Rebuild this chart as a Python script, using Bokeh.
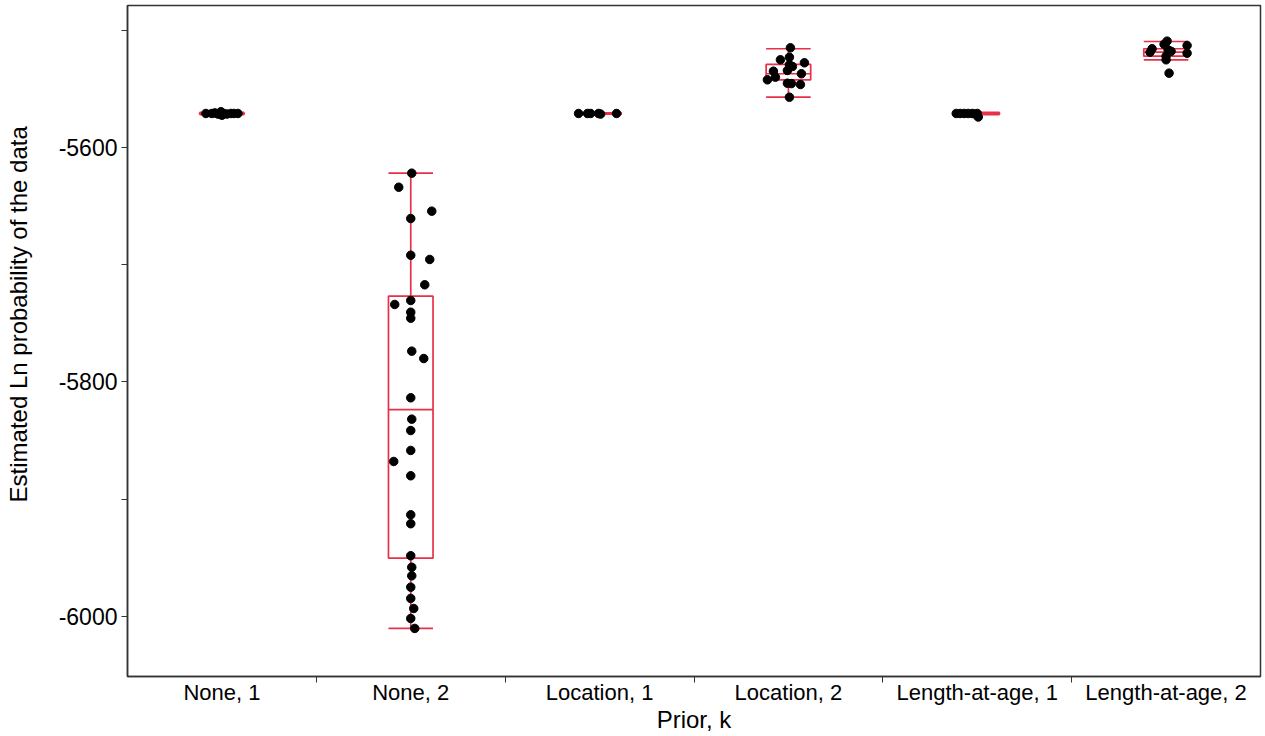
from bokeh.plotting import figure
from bokeh.models import Range1d, FixedTicker, ColumnDataSource
from bokeh.embed import file_html
from bokeh.resources import INLINE

# ---- data ----
categories = ["None, 1", "None, 2", "Location, 1", "Location, 2",
              "Length-at-age, 1", "Length-at-age, 2"]

# box statistics per category
whisker_low = [-5572.0, -6010.2, -5571.5, -5557.1, -5572.0, -5525.2]
quart1 = [-5571.5, -5950.3, -5571.0, -5542.3, -5571.5, -5522.1]
median = [-5571.0, -5823.5, -5571.0, -5537.1, -5571.0, -5518.7]
quart3 = [-5570.5, -5726.8, -5571.0, -5529.2, -5570.5, -5515.8]
whisker_high = [-5570.0, -5621.9, -5570.5, -5515.8, -5570.0, -5509.6]

# individual runs (value, horizontal jitter in pixels)
none1_vals = [-5571, -5571, -5570.5, -5571.5, -5569.5, -5572.5, -5571, -5571.5, -5571, -5571, -5571]
none1_jit = [-16, -10, -7, -4, -1, 0, 2, 5, 9, 12, 16]

none2_vals = [-5621.9, -5633.9, -5654.3, -5660.6, -5691.9, -5695.5, -5717.1, -5730.5,
              -5733.9, -5740.5, -5745.6, -5773.7, -5780.0, -5813.5, -5831.7, -5841.4,
              -5858.4, -5867.8, -5880.0, -5913.3, -5920.9, -5948.2, -5958.0, -5965.3,
              -5975.0, -5984.6, -5993.2, -6001.7, -6010.2]
none2_jit = [1, -12, 21, 0, 0, 19, 14, 0, -16, 0, 0, 1, 13, 0, 1, 0,
             0, -17, 0, 0, 0, 0, 1, 1, 0, 0, 3, 0, 4]

loc1_vals = [-5571, -5571, -5571, -5571, -5571.5, -5571]
loc1_jit = [-21, -12, -9, -1, 1, 17]

loc2_vals = [-5515.0, -5523.0, -5525.2, -5527.8, -5529.5, -5530.9, -5534.9, -5534.3,
             -5537.1, -5540.0, -5542.3, -5545.2, -5545.5, -5546.3, -5557.1]
loc2_jit = [2, 1, -8, 16, 1, 4, -15, -1, 13, -13, -21, -1, 3, 12, 1]

laa1_vals = [-5571, -5571, -5571, -5571, -5571, -5571.5, -5574, -5571]
laa1_jit = [-21, -17, -13, -9, -5, -2, 1, 0]

laa2_vals = [-5509.3, -5513.0, -5512.0, -5515.8, -5516.7, -5518.7, -5519.6, -5518.0,
             -5522.1, -5525.2, -5536.6]
laa2_jit = [1, 21, -2, -14, 2, -16, 21, 5, 0, 0, 3]

y_labeled_ticks = [-6000, -5800, -5600]
y_tick_labels = ["-6000", "-5800", "-5600"]
y_unlabeled_ticks = [-5900, -5700, -5500]

y_title = "Estimated Ln probability of the data"
x_title = "Prior, k"

# ---- figure ----
RED = "#e8304a"
AX = "#333333"
FONT = "Liberation Sans"
PX_PER_CAT = 188.8
BOX_HALF = 0.118

p = figure(width=1262, height=736, output_backend="svg", toolbar_location=None,
           x_range=Range1d(0, len(categories)), y_range=Range1d(-6051.2, -5478.9),
           min_border_left=127, min_border_right=2, min_border_top=5, min_border_bottom=60)
p.xgrid.visible = False
p.ygrid.visible = False
p.outline_line_color = AX
p.outline_line_width = 1.5
p.background_fill_color = "white"
p.border_fill_color = "white"

centers = [i + 0.5 for i in range(len(categories))]

# boxes
box_src = ColumnDataSource(dict(
    left=[c - BOX_HALF for c in centers], right=[c + BOX_HALF for c in centers],
    q1=quart1, q3=quart3, med=median, lo=whisker_low, hi=whisker_high, x=centers))
kw = dict(source=box_src, line_color=RED, line_width=1.7)
p.quad(left="left", right="right", bottom="q1", top="q3", fill_color=None, **kw)
p.segment(x0="left", x1="right", y0="med", y1="med", **kw)
p.segment(x0="x", x1="x", y0="q3", y1="hi", **kw)
p.segment(x0="x", x1="x", y0="q1", y1="lo", **kw)
p.segment(x0="left", x1="right", y0="hi", y1="hi", **kw)
p.segment(x0="left", x1="right", y0="lo", y1="lo", **kw)

# points
groups = [(none1_vals, none1_jit), (none2_vals, none2_jit), (loc1_vals, loc1_jit),
          (loc2_vals, loc2_jit), (laa1_vals, laa1_jit), (laa2_vals, laa2_jit)]
xs, ys = [], []
for i, (vals, jit) in enumerate(groups):
    for v, j in zip(vals, jit):
        xs.append(centers[i] + j / PX_PER_CAT)
        ys.append(v)
p.scatter(xs, ys, size=8.5, fill_color="black", line_color="black")

# axes
p.xaxis.ticker = FixedTicker(ticks=centers, minor_ticks=[1, 2, 3, 4, 5])
p.xaxis.major_label_overrides = {c: lab for c, lab in zip(centers, categories)}
p.xaxis.major_tick_line_color = None
p.xaxis.major_tick_out = 0
p.xaxis.major_tick_in = 0
p.xaxis.minor_tick_out = 6
p.xaxis.minor_tick_in = 0
p.xaxis.minor_tick_line_color = AX
p.xaxis.axis_label = x_title

p.yaxis.ticker = FixedTicker(ticks=y_labeled_ticks, minor_ticks=y_unlabeled_ticks)
p.yaxis.major_label_overrides = {t: lab for t, lab in zip(y_labeled_ticks, y_tick_labels)}
p.yaxis.major_tick_out = 6
p.yaxis.major_tick_in = 0
p.yaxis.minor_tick_out = 6
p.yaxis.minor_tick_in = 0
p.yaxis.minor_tick_line_color = AX
p.yaxis.major_tick_line_color = AX
# leading no-break spaces shift the title up, as in the reference
p.yaxis.axis_label = "\u00a0" * 8 + y_title

for ax in (p.xaxis, p.yaxis):
    ax.axis_line_color = AX
    ax.axis_line_width = 1.5
    ax.major_label_text_font = FONT
    ax.major_label_text_font_size = "22px"
    ax.major_label_text_color = "black"
    ax.axis_label_text_font = FONT
    ax.axis_label_text_font_size = "24px"
    ax.axis_label_text_font_style = "normal"
    ax.axis_label_text_color = "black"
p.yaxis.major_label_text_font_size = "23px"
p.xaxis.major_label_standoff = -3
p.xaxis.axis_label_standoff = -2
p.yaxis.major_label_standoff = 4
p.yaxis.axis_label_standoff = 24

open("out.html", "w").write(file_html(p, INLINE))
